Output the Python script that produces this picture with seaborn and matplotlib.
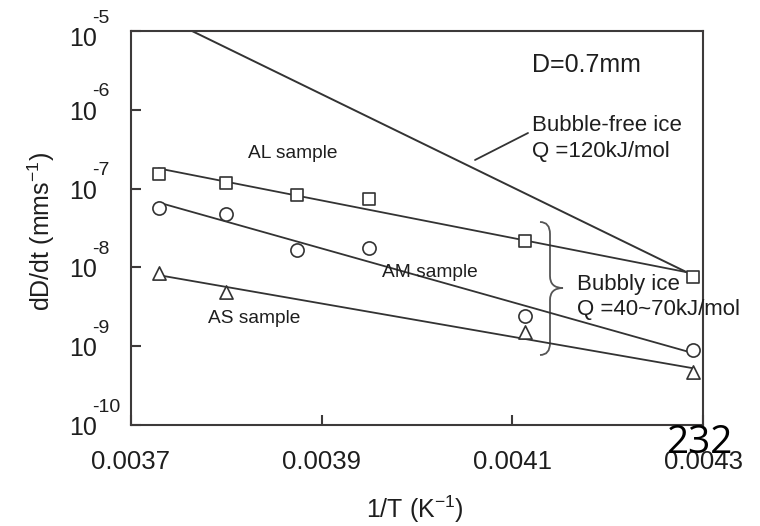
import matplotlib
matplotlib.use("Agg")
import numpy as np
import pandas as pd
import seaborn as sns
import matplotlib.pyplot as plt
from matplotlib.path import Path
from matplotlib.patches import PathPatch
from matplotlib import transforms as mtransforms
from matplotlib.ticker import NullLocator

# ---------------- data ----------------
inv_T = [0.003729, 0.003800, 0.003874, 0.003950, 0.004113, 0.004289]
AL_rate = [1.55e-7, 1.18e-7, 8.2e-8, 7.3e-8, 2.15e-8, 7.6e-9]
AM_rate = [5.7e-8, 4.8e-8, 1.65e-8, 1.75e-8, 2.4e-9, 9.0e-10]
AS_inv_T = [0.003729, 0.003800, 0.004113, 0.004289]
AS_rate = [8.5e-9, 4.9e-9, 1.5e-9, 4.7e-10]
bubble_free_x = [0.003764, 0.004289]
bubble_free_y = [1.0e-5, 8.0e-9]

x_ticks = [0.0037, 0.0039, 0.0041, 0.0043]
x_tick_labels = ["0.0037", "0.0039", "0.0041", "0.0043"]
y_exponents = [-5, -6, -7, -8, -9, -10]

# ---------------- style ----------------
sns.set_theme(style="white")
plt.rcParams["font.family"] = ["Liberation Sans", "DejaVu Sans"]
plt.rcParams["mathtext.default"] = "regular"

W, H = 760, 526
fig = plt.figure(figsize=(W / 100, H / 100), dpi=100)
ax = fig.add_axes([131 / W, 1 - 425 / H, 572 / W, 394 / H])
ax.set_yscale("log")

INK = "#333333"
TXT = "#1e1e1e"
SPINE = "#3d3a3a"

def fx(px):
    return px / W

def fy(py):
    return 1 - py / H

# fitted lines (least squares in log space)
for xs, ys in [(inv_T, AL_rate), (inv_T, AM_rate), (AS_inv_T, AS_rate)]:
    coef = np.polyfit(xs, np.log10(ys), 1)
    ends = np.array([xs[0], xs[-1]])
    sns.lineplot(x=ends, y=10 ** np.polyval(coef, ends), ax=ax,
                 color=INK, linewidth=1.3, zorder=2)

sns.lineplot(x=bubble_free_x, y=bubble_free_y, ax=ax, color=INK,
             linewidth=1.4, zorder=2)

# markers
for xs, ys, mk, s in [(inv_T, AL_rate, "s", 85), (inv_T, AM_rate, "o", 90),
                      (AS_inv_T, AS_rate, "^", 90)]:
    sns.scatterplot(x=xs, y=ys, ax=ax, marker=mk, s=s, facecolor="white",
                    edgecolor=INK, linewidth=1.2, zorder=3)

ax.set_xlim(0.0037, 0.0043)
ax.set_ylim(1e-10, 1e-5)

for sp in ax.spines.values():
    sp.set_visible(True)
    sp.set_color(SPINE)
    sp.set_linewidth(1.5)

ax.set_xticks(x_ticks)
ax.set_xticklabels(x_tick_labels, fontsize=18.5, color=TXT)
ax.set_yticks([10.0 ** e for e in y_exponents])
ax.set_yticklabels([])
ax.yaxis.set_minor_locator(NullLocator())
ax.xaxis.set_minor_locator(NullLocator())
ax.tick_params(axis="both", direction="in", length=7, width=1.5,
               color=SPINE, left=True, bottom=True, top=False, right=False)
ax.tick_params(axis="x", pad=18)

# y tick labels as 10 with raised exponent
ytr = ax.get_yaxis_transform()
for e in y_exponents:
    dy = -8 if e == -5 else -3
    base_tr = mtransforms.offset_copy(ytr, fig=fig, x=-34, y=dy, units="dots")
    exp_tr = mtransforms.offset_copy(ytr, fig=fig, x=-39, y=dy + 21,
                                     units="dots")
    ax.text(0, 10.0 ** e, "10", transform=base_tr, ha="right", va="center",
            fontsize=18, color=TXT)
    ax.text(0, 10.0 ** e, str(e), transform=exp_tr, ha="left", va="center",
            fontsize=14, color=TXT)

# axis labels
ax.set_xlabel("1/T (K$^{-1}$)", fontsize=18, color=TXT)
ax.xaxis.set_label_coords(0.497, -0.175)
ax.set_ylabel("dD/dt (mms$^{-1}$)", fontsize=18, color=TXT)
ax.yaxis.set_label_coords(-0.13, 0.49)

# annotations
fig.text(fx(532), fy(72), "D=0.7mm", fontsize=18, color=TXT, va="baseline")
fig.text(fx(248), fy(158), "AL sample", fontsize=13.8, color=TXT, va="baseline")
fig.text(fx(382), fy(277), "AM sample", fontsize=13.8, color=TXT, va="baseline")
fig.text(fx(208), fy(323), "AS sample", fontsize=13.8, color=TXT, va="baseline")
fig.text(fx(532), fy(131), "Bubble-free ice", fontsize=16, color=TXT, va="baseline")
fig.text(fx(532), fy(157), "Q =120kJ/mol", fontsize=16, color=TXT, va="baseline")
fig.text(fx(577), fy(290), "Bubbly ice", fontsize=16, color=TXT, va="baseline")
fig.text(fx(577), fy(315), "Q =40~70kJ/mol", fontsize=16, color=TXT, va="baseline")

# leader line for bubble-free ice
ax.plot([(475 - 131) / 572, (528 - 131) / 572],
        [1 - (160 - 31) / 394, 1 - (133 - 31) / 394],
        transform=ax.transAxes, color=INK, linewidth=1.3, clip_on=False)

# brace
def ap(px, py):
    return ((px - 131) / 572, 1 - (py - 31) / 394)

verts = [ap(540, 222), ap(550, 222), ap(550, 234),
         ap(550, 276),
         ap(550, 288), ap(563, 288),
         ap(550, 288), ap(550, 300),
         ap(550, 343),
         ap(550, 355), ap(540, 355)]
codes = [Path.MOVETO, Path.CURVE3, Path.CURVE3,
         Path.LINETO,
         Path.CURVE3, Path.CURVE3,
         Path.CURVE3, Path.CURVE3,
         Path.LINETO,
         Path.CURVE3, Path.CURVE3]
ax.add_patch(PathPatch(Path(verts, codes), transform=ax.transAxes,
                       facecolor="none", edgecolor="#555555", linewidth=1.3,
                       clip_on=False))

# page number overlay (present in the reference, overlapping the last tick label)
fig.text(fx(699), fy(453), "232", fontsize=28, color="black", ha="center",
         va="baseline", family=["Open Sans", "DejaVu Sans"])

fig.savefig("out.png", dpi=100)
